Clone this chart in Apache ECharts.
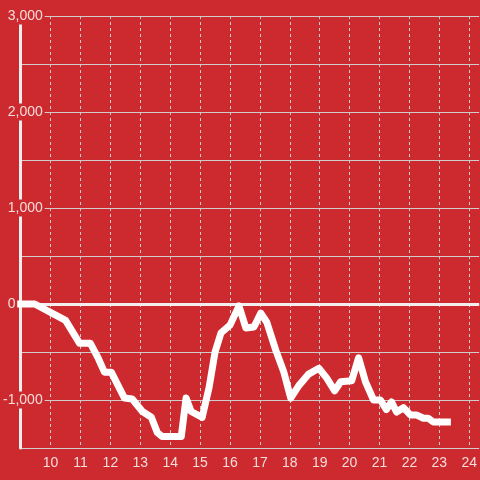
<!DOCTYPE html>
<html>
<head>
<meta charset="utf-8">
<script src="https://cdn.jsdelivr.net/npm/echarts@6/dist/echarts.min.js"></script>
<style>
html,body{margin:0;padding:0;background:#cc2a2e;}
#c{width:480px;height:480px;}
</style>
</head>
<body>
<div id="c"></div>
<script>
var times = [9.0, 9.47, 10.5, 10.97, 11.33, 11.57, 11.8, 12.03, 12.47, 12.73, 13.07, 13.37, 13.57, 13.73, 14.37, 14.53, 14.7, 15.07, 15.3, 15.5, 15.7, 16.0, 16.3, 16.53, 16.8, 17.03, 17.23, 17.53, 17.8, 18.03, 18.3, 18.63, 18.97, 19.23, 19.5, 19.7, 20.07, 20.3, 20.53, 20.8, 21.03, 21.23, 21.4, 21.57, 21.8, 22.03, 22.23, 22.47, 22.63, 22.8, 23.27];
var values = [0, 0, -170, -410, -410, -550, -710, -710, -980, -990, -1120, -1180, -1340, -1380, -1380, -980, -1120, -1180, -870, -500, -300, -220, -20, -250, -240, -95, -190, -480, -710, -980, -850, -730, -670, -770, -905, -810, -800, -560, -810, -1000, -1000, -1100, -1020, -1125, -1080, -1155, -1155, -1190, -1190, -1230, -1230];
var xTickLabels = [10, 11, 12, 13, 14, 15, 16, 17, 18, 19, 20, 21, 22, 23, 24];
var yTickLabels = [-1000, 0, 1000, 2000, 3000];

var bg = '#cc2a2e';
var txt = '#f4dcdc';
var grid = '#d2cccc';

function fmt(v) {
  var a = Math.abs(v);
  var s = a >= 1000 ? Math.floor(a / 1000) + ',' + String(a % 1000).padStart(3, '0') : String(a);
  return v < 0 ? '{n|-' + s + '}' : '{s| }{n|' + s + '}';
}

var data = times.map(function (t, i) { return [t, values[i]]; });

var chart = echarts.init(document.getElementById('c'), null, {renderer: 'canvas'});
chart.setOption({
  backgroundColor: bg,
  animation: false,
  grid: {left: 20, right: 0, top: 16, bottom: 32, containLabel: false},
  xAxis: {
    type: 'value', min: 9, max: 24.333, interval: 1,
    axisLine: {show: false, onZero: false},
    axisTick: {show: false},
    axisLabel: {
      customValues: xTickLabels, color: txt, fontSize: 14,
      fontFamily: 'Liberation Sans, Arial, sans-serif', margin: 8
    },
    splitLine: {show: true, showMinLine: false, showMaxLine: false,
      lineStyle: {color: grid, width: 1, type: [3, 3]}}
  },
  yAxis: {
    type: 'value', min: -1500, max: 3000, interval: 500,
    axisLine: {show: true, onZero: false, lineStyle: {color: '#f2eeee', width: 3}},
    axisTick: {show: false},
    axisLabel: {
      customValues: yTickLabels, align: 'left', margin: 17.7,
      formatter: fmt,
      backgroundColor: bg, padding: [0, 2, 0, 0], lineHeight: 17,
      rich: {
        s: {width: 4.7, fontSize: 14, fontFamily: 'Liberation Sans, Arial, sans-serif', color: txt},
        n: {fontSize: 14, fontFamily: 'Liberation Sans, Arial, sans-serif', color: txt}
      }
    },
    splitLine: {show: true, lineStyle: {color: grid, width: 1}}
  },
  series: [{
    type: 'line',
    data: data,
    showSymbol: false,
    symbol: 'none',
    clip: false,
    z: 5,
    lineStyle: {color: '#ffffff', width: 7, cap: 'square', join: 'round'},
    markLine: {
      silent: true, symbol: 'none', animation: false,
      label: {show: false},
      lineStyle: {color: '#f2eeee', width: 3, type: 'solid'},
      data: [{yAxis: 0}],
      z: 4
    }
  }]
});
</script>
</body>
</html>
